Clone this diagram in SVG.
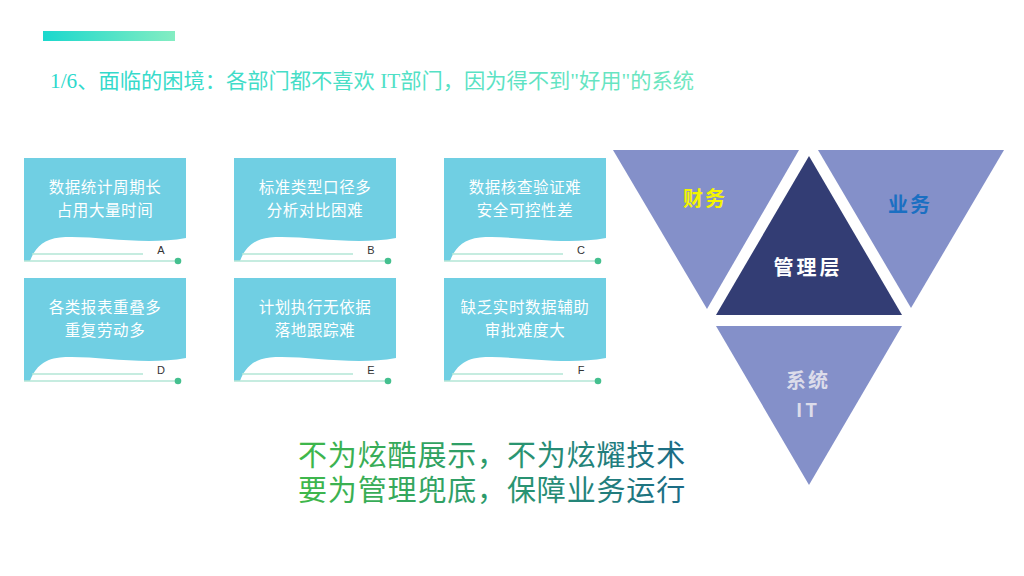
<svg xmlns="http://www.w3.org/2000/svg" width="1024" height="576" viewBox="0 0 1024 576">
<defs>
<linearGradient id="barG" x1="0" y1="0" x2="1" y2="0">
<stop offset="0" stop-color="#1bd8cd"/>
<stop offset="1" stop-color="#84edc2"/>
</linearGradient>
<linearGradient id="titleG" x1="0" y1="0" x2="1" y2="0">
<stop offset="0" stop-color="#2dd8cc"/>
<stop offset="1" stop-color="#70e6c0"/>
</linearGradient>
<linearGradient id="sloganG" x1="298" y1="0" x2="686" y2="0" gradientUnits="userSpaceOnUse">
<stop offset="0" stop-color="#3fb84a"/>
<stop offset="0.55" stop-color="#2a9670"/>
<stop offset="1" stop-color="#1b6a86"/>
</linearGradient>
<g id="cardBase">
<rect x="0" y="0" width="162" height="103" fill="#70cfe3"/>
<path d="M6 103 C10 92 18 81 36 79.5 C70 77 118 88 162 80 V103 Z" fill="#ffffff"/>
<line x1="8" y1="96" x2="119" y2="96" stroke="#b3e6d6" stroke-width="1.5"/>
<line x1="0" y1="103" x2="154" y2="103" stroke="#b3e6d6" stroke-width="1.5"/>
<circle cx="154" cy="103" r="3.3" fill="#45c08f"/>
</g>
</defs>
<style>
.ct{font-family:"Noto Sans CJK SC","Noto Sans",sans-serif;font-size:15.5px;fill:#ffffff;text-anchor:middle;letter-spacing:0.6px}
.lb{font-family:"Liberation Sans",Arial,sans-serif;font-size:11px;fill:#333333;text-anchor:middle}
.tri{fill:#8490c9}
.tt{font-family:"Noto Sans CJK SC","Noto Sans",sans-serif;font-weight:bold;text-anchor:middle}
.sl{font-family:"Noto Sans CJK SC","Noto Sans",sans-serif;font-size:29px;fill:url(#sloganG);letter-spacing:0.85px}
</style>
<rect width="1024" height="576" fill="#ffffff"/>
<rect x="43" y="31" width="132" height="10" fill="url(#barG)"/>
<text x="50" y="88" textLength="644" lengthAdjust="spacingAndGlyphs" font-family="'Liberation Serif','Noto Sans CJK SC',serif" font-size="21" fill="url(#titleG)">1/6、面临的困境：各部门都不喜欢 IT部门，因为得不到"好用"的系统</text>

<g id="card-A" transform="translate(24,158)">
<use href="#cardBase"/>
<text class="ct" x="81" y="35">数据统计周期长</text>
<text class="ct" x="81" y="58">占用大量时间</text>
<text class="lb" x="137" y="96">A</text>
</g>
<g id="card-B" transform="translate(234,158)">
<use href="#cardBase"/>
<text class="ct" x="81" y="35">标准类型口径多</text>
<text class="ct" x="81" y="58">分析对比困难</text>
<text class="lb" x="137" y="96">B</text>
</g>
<g id="card-C" transform="translate(444,158)">
<use href="#cardBase"/>
<text class="ct" x="81" y="35">数据核查验证难</text>
<text class="ct" x="81" y="58">安全可控性差</text>
<text class="lb" x="137" y="96">C</text>
</g>
<g id="card-D" transform="translate(24,278)">
<use href="#cardBase"/>
<text class="ct" x="81" y="35">各类报表重叠多</text>
<text class="ct" x="81" y="58">重复劳动多</text>
<text class="lb" x="137" y="96">D</text>
</g>
<g id="card-E" transform="translate(234,278)">
<use href="#cardBase"/>
<text class="ct" x="81" y="35">计划执行无依据</text>
<text class="ct" x="81" y="58">落地跟踪难</text>
<text class="lb" x="137" y="96">E</text>
</g>
<g id="card-F" transform="translate(444,278)">
<use href="#cardBase"/>
<text class="ct" x="81" y="35">缺乏实时数据辅助</text>
<text class="ct" x="81" y="58">审批难度大</text>
<text class="lb" x="137" y="96">F</text>
</g>

<g id="tri-finance">
<polygon class="tri" points="613,150 799,150 707,309"/>
<text class="tt" x="705" y="206" font-size="20" fill="#f4f400" letter-spacing="2">财务</text>
</g>
<g id="tri-business">
<polygon class="tri" points="818,150 1004,150 911,308"/>
<text class="tt" x="910" y="212" font-size="20" fill="#1a6fc2" letter-spacing="2">业务</text>
</g>
<g id="tri-management">
<polygon points="809,156 716,315 902,315" fill="#333d74"/>
<text class="tt" x="808" y="275" font-size="20" fill="#ffffff" letter-spacing="3">管理层</text>
</g>
<g id="tri-system">
<polygon class="tri" points="716,326 902,326 809,485"/>
<text class="tt" x="808" y="388" font-size="20" fill="#dcdcea" letter-spacing="2">系统</text>
<text class="tt" x="808" y="417" font-size="19" fill="#dcdcea" letter-spacing="3" font-family="'Liberation Sans',sans-serif">IT</text>
</g>
<g id="connectors"></g>

<text class="sl"><tspan x="298" y="466">不为炫酷展示，不为炫耀技术</tspan><tspan x="298" y="501">要为管理兜底，保障业务运行</tspan></text>
</svg>
